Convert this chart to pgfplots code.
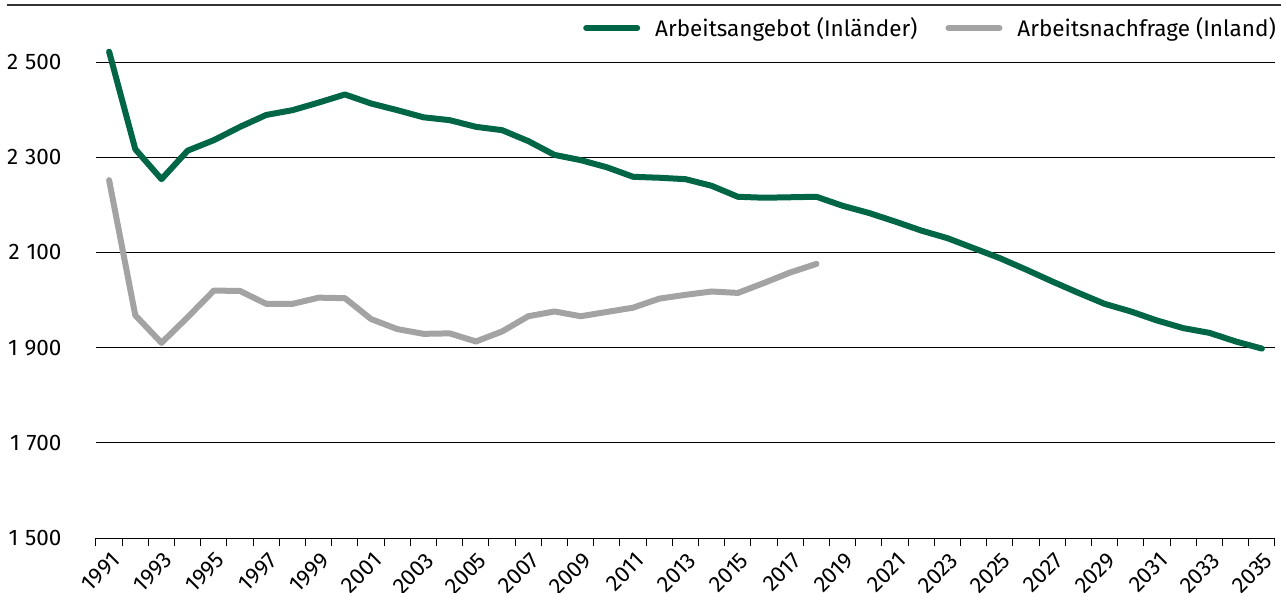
\documentclass[border=0pt]{standalone}
\usepackage{fontspec}
\setmainfont{Fira Sans}
\usepackage{pgfplots}
\pgfplotsset{compat=1.18}
\definecolor{dgreen}{HTML}{006646}
\definecolor{lgray}{HTML}{A3A3A3}
\newcommand{\chartfont}{\fontsize{22.5}{26}\selectfont}

\pgfplotstableread{
year val
1991 2522
1992 2317
1993 2254
1994 2314
1995 2336
1996 2364
1997 2389
1998 2399
1999 2415
2000 2432
2001 2413
2002 2399
2003 2384
2004 2378
2005 2364
2006 2357
2007 2334
2008 2305
2009 2294
2010 2279
2011 2259
2012 2257
2013 2254
2014 2240
2015 2217
2016 2215
2017 2216
2018 2217
2019 2198
2020 2183
2021 2165
2022 2146
2023 2130
2024 2109
2025 2088
2026 2064
2027 2039
2028 2015
2029 1992
2030 1976
2031 1957
2032 1941
2033 1931
2034 1913
2035 1898
}\angebot

\pgfplotstableread{
year val
1991 2252
1992 1968
1993 1910
1994 1964
1995 2020
1996 2019
1997 1992
1998 1992
1999 2005
2000 2004
2001 1960
2002 1939
2003 1929
2004 1930
2005 1913
2006 1934
2007 1966
2008 1976
2009 1966
2010 1975
2011 1984
2012 2003
2013 2011
2014 2018
2015 2015
2016 2036
2017 2058
2018 2076
}\nachfrage

\begin{document}
\begin{tikzpicture}[font=\chartfont]
\path[use as bounding box] (-96pt,-54pt) rectangle (1185pt,538pt);
\draw[line width=1.3pt, color=black!80] (-89pt,533pt) -- (1185pt,533pt);
\begin{axis}[
  at={(0pt,0pt)}, anchor=south west,
  scale only axis, width=1179pt, height=533pt,
  xmin=1990.5, xmax=2035.5, ymin=1500, ymax=2620,
  axis x line*=bottom, axis y line*=left,
  y axis line style={draw=none},
  x axis line style={line width=1pt, black},
  ytick={1500,1700,...,2500},
  ytick style={draw=none},
  ymajorgrids, grid style={black, line width=0.9pt},
  xtick={1991,1993,...,2035},
  major x tick style={draw=none},
  minor xtick={1990.5,1991.5,...,2035.5},
  minor x tick style={black, line width=1pt},
  minor tick length=8pt,
  xtick align=outside,
  x tick label style={rotate=45, anchor=east, yshift=-15pt, xshift=-2pt},
  y tick label style={xshift=-31pt},
  /pgf/number format/.cd, assume math mode=true,
  /pgfplots/.cd,
  xticklabel={\mbox{\chartfont\pgfmathprintnumber[1000 sep={}]{\tick}}},
  yticklabel={\mbox{\chartfont\pgfmathprintnumber[1000 sep={\hspace{0.3em}}]{\tick}}},
  legend style={at={(1,0.957)}, anchor=east, xshift=6pt, draw=none, fill=none,
    legend columns=2, font=\chartfont,
    /tikz/every even column/.append style={column sep=26pt}},
  legend image code/.code={\draw[#1, line width=6pt, line cap=round] (0pt,0pt) -- (51pt,0pt);
    \path[draw=none, fill=none] (0pt,0pt) -- (67pt,0pt);},
]
\addplot[dgreen, line width=6pt, line join=round, line cap=round] table[x=year,y=val] {\angebot};
\addlegendentry{Arbeitsangebot (Inländer)}
\addplot[lgray, line width=6pt, line join=round, line cap=round] table[x=year,y=val] {\nachfrage};
\addlegendentry{Arbeitsnachfrage (Inland)}
\end{axis}
\end{tikzpicture}
\end{document}
